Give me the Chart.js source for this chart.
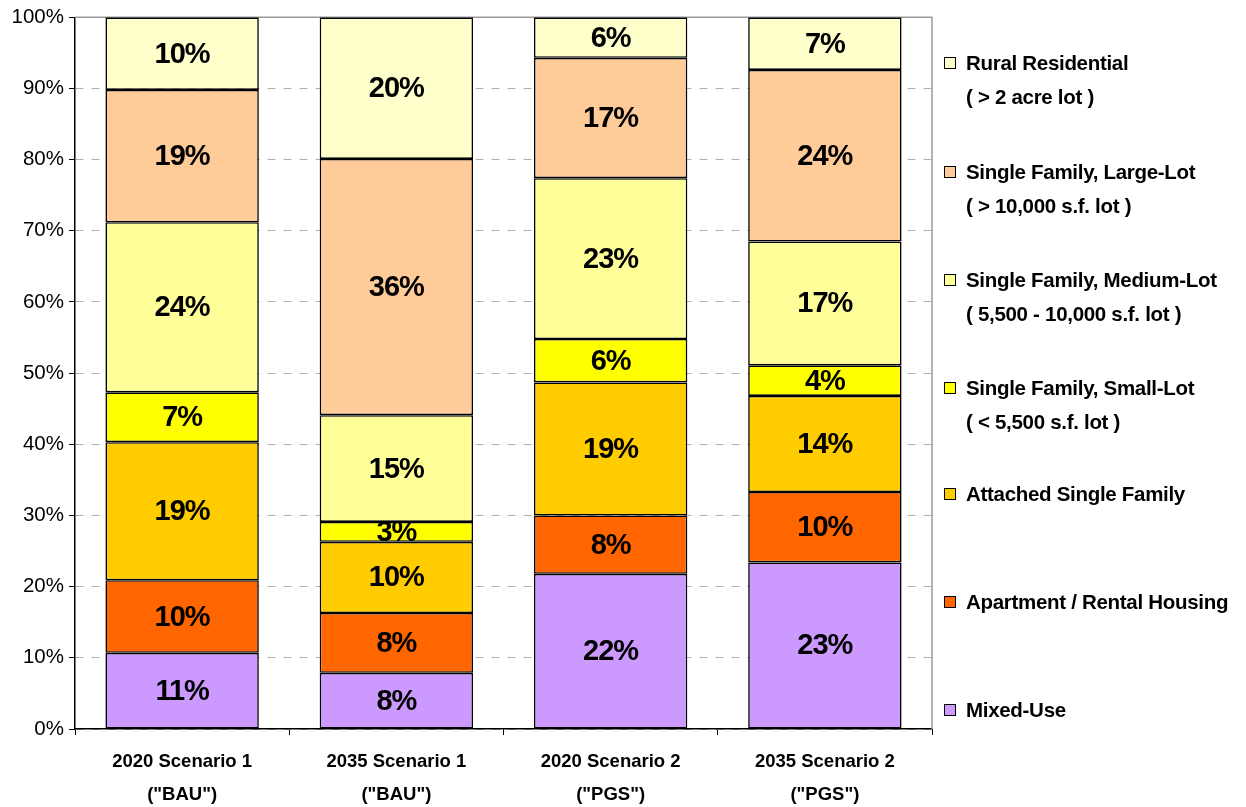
<!DOCTYPE html>
<html>
<head>
<meta charset="utf-8">
<script src="https://cdn.jsdelivr.net/npm/chart.js@4/dist/chart.umd.min.js"></script>
<style>
  html, body { margin: 0; padding: 0; background: #fff; }
  #wrap { position: relative; width: 1246px; height: 807px; }
  canvas { position: absolute; left: 0; top: 0; }
  .leg { position: absolute; left: 944px; font-family: "Liberation Sans", Arial, sans-serif; font-weight: bold; font-size: 20.5px; color: #000; letter-spacing: -0.3px; }
  .leg .box { position: absolute; left: 0; width: 10px; height: 10px; border: 1px solid #000; }
  .leg .txt { position: absolute; left: 22px; white-space: nowrap; line-height: 34px; }
</style>
</head>
<body>
<div id="wrap">
  <canvas id="c" width="1246" height="807"></canvas>
  <div id="legend"></div>
</div>
<script>
const categories = [
  ['2020 Scenario 1', '("BAU")'],
  ['2035 Scenario 1', '("BAU")'],
  ['2020 Scenario 2', '("PGS")'],
  ['2035 Scenario 2', '("PGS")']
];
const mixedUse      = [10.7, 7.9, 21.8, 23.4];
const apartment     = [10.2, 8.4, 8.2, 9.9];
const attached      = [19.4, 10.0, 18.7, 13.5];
const smallLot      = [7.0, 2.8, 6.1, 4.3];
const mediumLot     = [23.9, 15.0, 22.6, 17.4];
const largeLot      = [18.6, 36.0, 16.9, 24.1];
const rural         = [10.2, 19.9, 5.7, 7.4];
const yTicks = [0, 10, 20, 30, 40, 50, 60, 70, 80, 90, 100];

const seriesNames = ['Mixed-Use', 'Apartment / Rental Housing', 'Attached Single Family',
  'Single Family, Small-Lot', 'Single Family, Medium-Lot', 'Single Family, Large-Lot', 'Rural Residential'];
const seriesSub = ['', '', '', '( < 5,500 s.f. lot )', '( 5,500 - 10,000 s.f. lot )', '( > 10,000 s.f. lot )', '( > 2 acre lot )'];
const seriesData = [mixedUse, apartment, attached, smallLot, mediumLot, largeLot, rural];
const colors = ['#CC99FF', '#FF6600', '#FFCC00', '#FFFF00', '#FFFF99', '#FFCC99', '#FFFFCC'];

const FONT = '"Liberation Sans", Arial, sans-serif';

const datasets = seriesData.map((d, i) => ({
  label: seriesNames[i],
  data: d,
  backgroundColor: colors[i],
  borderColor: '#000',
  borderWidth: 1.6,
  borderSkipped: false,
  inflateAmount: 0,
  categoryPercentage: 1.0,
  barPercentage: 0.716
}));

const valueLabels = {
  id: 'valueLabels',
  afterDatasetsDraw(chart) {
    const ctx = chart.ctx;
    ctx.save();
    ctx.font = 'bold 29px ' + FONT;
    if ('letterSpacing' in ctx) ctx.letterSpacing = '-1px';
    ctx.fillStyle = '#000';
    ctx.textAlign = 'center';
    ctx.textBaseline = 'middle';
    chart.data.datasets.forEach((ds, i) => {
      const meta = chart.getDatasetMeta(i);
      meta.data.forEach((el, j) => {
        const v = ds.data[j];
        const p = el.getProps(['x', 'y', 'base'], true);
        ctx.fillText(Math.round(v) + '%', p.x, (p.y + p.base) / 2 + 1);
      });
    });
    ctx.restore();
  }
};

const plotBorder = {
  id: 'plotBorder',
  beforeDatasetsDraw(chart) {
    const a = chart.chartArea, ctx = chart.ctx;
    ctx.save();
    ctx.strokeStyle = '#999';
    ctx.lineWidth = 1.5;
    ctx.beginPath();
    ctx.moveTo(a.left, a.top);
    ctx.lineTo(a.right, a.top);
    ctx.lineTo(a.right, a.bottom);
    ctx.stroke();
    ctx.restore();
  }
};

new Chart(document.getElementById('c'), {
  type: 'bar',
  data: { labels: categories, datasets },
  plugins: [plotBorder, valueLabels],
  options: {
    responsive: false,
    animation: false,
    layout: { padding: { left: 0, right: 314, top: 17, bottom: 0 } },
    plugins: { legend: { display: false }, tooltip: { enabled: false } },
    scales: {
      x: {
        stacked: true,
        offset: true,
        afterFit(s) { s.height = 78; },
        grid: { display: true, drawOnChartArea: false, drawTicks: true, tickLength: 6, tickColor: '#000', tickWidth: 1 },
        border: { display: true, color: '#000', width: 1.5 },
        ticks: { color: '#000', font: { family: FONT, size: 18.5, weight: 'bold', lineHeight: 1.8 }, padding: 10, maxRotation: 0 }
      },
      y: {
        stacked: true,
        min: 0, max: 100,
        afterFit(s) { s.width = 75; },
        afterBuildTicks(s) { s.ticks = yTicks.map(v => ({ value: v })); },
        grid: { color: '#b0b0b0', lineWidth: 1, tickLength: 6, tickColor: '#000', tickBorderDash: [], tickWidth: 1 },
        border: { display: true, color: '#000', width: 1.5, dash: [8, 8] },
        ticks: { color: '#000', font: { family: FONT, size: 20.5 }, padding: 5, callback: v => v + '%' }
      }
    }
  }
});

// HTML legend
const legendTops = { 6: 63, 5: 172, 4: 280, 3: 388, 2: 494, 1: 602, 0: 710 };
const legendEl = document.getElementById('legend');
for (let i = 6; i >= 0; i--) {
  const item = document.createElement('div');
  item.className = 'leg';
  item.style.top = legendTops[i] + 'px';
  const box = document.createElement('div');
  box.className = 'box';
  box.style.background = colors[i];
  box.style.top = '-6px';
  const txt = document.createElement('div');
  txt.className = 'txt';
  txt.style.top = '-17px';
  txt.innerHTML = seriesNames[i] + (seriesSub[i] ? '<br>' + seriesSub[i] : '');
  item.appendChild(box);
  item.appendChild(txt);
  legendEl.appendChild(item);
}
</script>
</body>
</html>
